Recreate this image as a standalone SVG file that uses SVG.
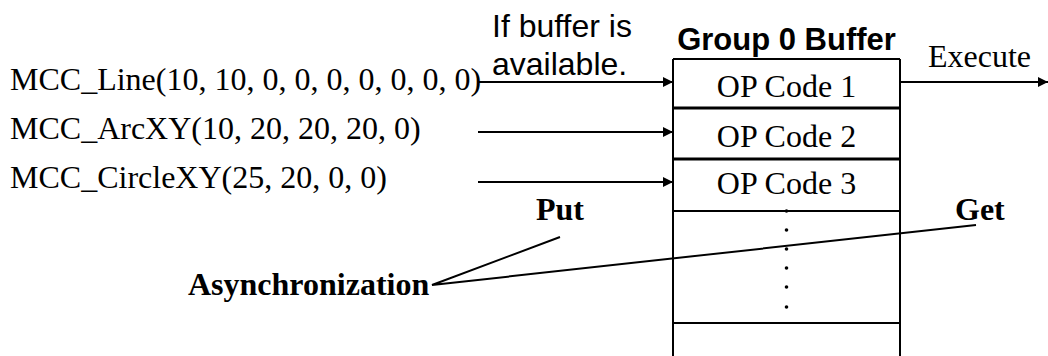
<svg xmlns="http://www.w3.org/2000/svg" width="1048" height="356" viewBox="0 0 1048 356">
  <style>
    .serif { font-family: "Liberation Serif", "Times New Roman", serif; font-size: 32px; fill: #000; }
    .sans { font-family: "Liberation Sans", Arial, sans-serif; font-size: 32px; fill: #000; }
    .bold { font-weight: bold; }
    .title { font-size: 31px; }
    .ln { stroke: #000; stroke-width: 2; fill: none; }
    .thick { stroke: #000; stroke-width: 3; fill: none; }
  </style>
  <defs>
    <marker id="arrow" markerWidth="10" markerHeight="10" refX="10" refY="5" orient="auto" markerUnits="userSpaceOnUse">
      <path d="M0,0 L10,5 L0,10 Z" fill="#000"/>
    </marker>
  </defs>
  <rect width="1048" height="356" fill="#fff"/>

  <g id="calls">
    <text class="serif" x="10" y="90">MCC_Line(10, 10, 0, 0, 0, 0, 0, 0, 0)</text>
    <text class="serif" x="10" y="139">MCC_ArcXY(10, 20, 20, 20, 0)</text>
    <text class="serif" x="10" y="188">MCC_CircleXY(25, 20, 0, 0)</text>
  </g>

  <g id="condition">
    <text class="sans" x="492" y="37">If buffer is</text>
    <text class="sans" x="492" y="75">available.</text>
  </g>

  <g id="buffer">
    <text class="sans bold title" x="786.5" y="50" text-anchor="middle">Group 0 Buffer</text>
    <path class="ln" d="M673,59 H900 M673,59 V356 M900,59 V356"/>
    <path class="thick" d="M673,108 H900 M673,159 H900"/>
    <path class="ln" d="M673,211 H900 M673,323 H900"/>
    <text class="serif" x="786.5" y="97" text-anchor="middle">OP Code 1</text>
    <text class="serif" x="786.5" y="147" text-anchor="middle">OP Code 2</text>
    <text class="serif" x="786.5" y="194" text-anchor="middle">OP Code 3</text>
    <g fill="#000">
      <circle cx="786.5" cy="211" r="1.8"/>
      <circle cx="786.5" cy="230" r="1.8"/>
      <circle cx="786.5" cy="249" r="1.8"/>
      <circle cx="786.5" cy="268" r="1.8"/>
      <circle cx="786.5" cy="287" r="1.8"/>
      <circle cx="786.5" cy="307" r="1.8"/>
    </g>
  </g>

  <g id="execute">
    <text class="serif" x="928" y="67">Execute</text>
  </g>

  <g id="labels">
    <text class="serif bold" x="536" y="220">Put</text>
    <text class="serif bold" x="955" y="220">Get</text>
    <text class="serif bold" x="188" y="295">Asynchronization</text>
  </g>

  <g id="connectors">
    <line class="ln" x1="479" y1="82" x2="673" y2="82" marker-end="url(#arrow)"/>
    <line class="ln" x1="478" y1="132" x2="673" y2="132" marker-end="url(#arrow)"/>
    <line class="ln" x1="478" y1="182" x2="673" y2="182" marker-end="url(#arrow)"/>
    <line class="ln" x1="900" y1="82" x2="1048" y2="82" marker-end="url(#arrow)"/>
    <polyline class="ln" points="560,237 432,285 976,225"/>
  </g>
</svg>
